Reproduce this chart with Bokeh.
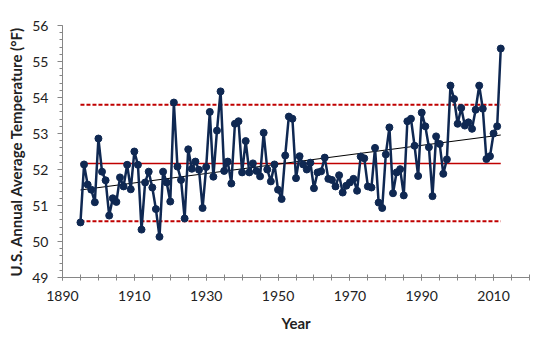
import numpy as np
from bokeh.plotting import figure
from bokeh.models import FixedTicker
from bokeh.embed import file_html
from bokeh.resources import INLINE

years = list(range(1895, 2013))
temps = [
    50.53, 52.14, 51.58, 51.44, 51.09, 52.86, 51.94, 51.70, 50.72, 51.20,
    51.10, 51.78, 51.53, 52.13, 51.45, 52.50, 52.13, 50.33, 51.64, 51.94,
    51.50, 50.90, 50.13, 51.94, 51.64, 51.11, 53.86, 52.08, 51.71, 50.64,
    52.56, 52.02, 52.22, 51.99, 50.93, 52.07, 53.60, 51.80, 53.08, 54.17,
    51.96, 52.22, 51.61, 53.27, 53.34, 51.92, 52.79, 51.92, 52.17, 51.96,
    51.81, 53.02, 52.00, 51.67, 52.14, 51.44, 51.18, 52.39, 53.47, 53.41,
    51.76, 52.37, 52.14, 52.00, 52.19, 51.48, 51.92, 51.95, 52.33, 51.74,
    51.71, 51.53, 51.84, 51.36, 51.55, 51.64, 51.74, 51.41, 52.36, 52.31,
    51.53, 51.50, 52.60, 51.08, 50.93, 52.42, 53.17, 51.34, 51.92, 52.01,
    51.28, 53.34, 53.41, 52.66, 51.82, 53.58, 53.20, 52.62, 51.26, 52.92,
    52.71, 51.88, 52.28, 54.33, 53.96, 53.27, 53.71, 53.22, 53.31, 53.13,
    53.66, 54.33, 53.69, 52.29, 52.37, 53.00, 53.20, 55.36,
]
mean_value = 52.17
upper_value = 53.80
lower_value = 50.56
x_major_ticks = [1890, 1910, 1930, 1950, 1970, 1990, 2010]
y_major_ticks = [49, 50, 51, 52, 53, 54, 55, 56]

navy = "#0f2852"
red = "#c00000"
axis_gray = "#868686"
font = "Lato"

p = figure(width=536, height=338, x_range=(1890, 2020), y_range=(49, 56),
           output_backend="svg", toolbar_location=None,
           min_border_left=62, min_border_right=7, min_border_top=25,
           min_border_bottom=61)
p.outline_line_color = None
p.xgrid.grid_line_color = None
p.ygrid.grid_line_color = None
p.background_fill_color = "white"
p.border_fill_color = "white"

x0, x1 = years[0], years[-1]
# reference lines
p.line([x0, x1], [mean_value, mean_value], line_color=red, line_width=1.5)
p.line([x0, x1], [upper_value, upper_value], line_color=red, line_width=2, line_dash="4 2")
p.line([x0, x1], [lower_value, lower_value], line_color=red, line_width=2, line_dash="4 2")

# trend line
coef = np.polyfit(years, temps, 1)
p.line([x0, x1], [coef[0] * x0 + coef[1], coef[0] * x1 + coef[1]],
       line_color="black", line_width=1)

p.line(years, temps, line_color=navy, line_width=2.5)
p.scatter(years, temps, size=7, fill_color=navy, line_color=navy)

xa = p.xaxis[0]
xa.ticker = FixedTicker(ticks=x_major_ticks, minor_ticks=list(range(1890, 2021, 5)))
xa.axis_label = "Year"
ya = p.yaxis[0]
ya.ticker = FixedTicker(ticks=y_major_ticks, minor_ticks=[round(49 + 0.2 * i, 1) for i in range(36)])
ya.axis_label = "U.S. Annual Average Temperature (°F)"

for ax in (xa, ya):
    ax.axis_line_color = axis_gray
    ax.major_tick_line_color = axis_gray
    ax.minor_tick_line_color = axis_gray
    ax.major_label_text_font = font
    ax.major_label_text_font_size = "14px"
    ax.major_label_text_color = "#222222"
    ax.axis_label_text_font = font
    ax.axis_label_text_font_size = "15px"
    ax.axis_label_text_font_style = "bold"
    ax.axis_label_text_color = "#222222"

xa.major_tick_in = 3
xa.major_tick_out = 3
xa.minor_tick_in = 3
xa.minor_tick_out = 3
xa.major_label_standoff = 10
xa.axis_label_standoff = 10

ya.major_tick_in = 0
ya.major_tick_out = 5
ya.minor_tick_in = 0
ya.minor_tick_out = 3
ya.major_label_standoff = 9
ya.axis_label_standoff = 4

open("out.html", "w").write(file_html(p, INLINE))
